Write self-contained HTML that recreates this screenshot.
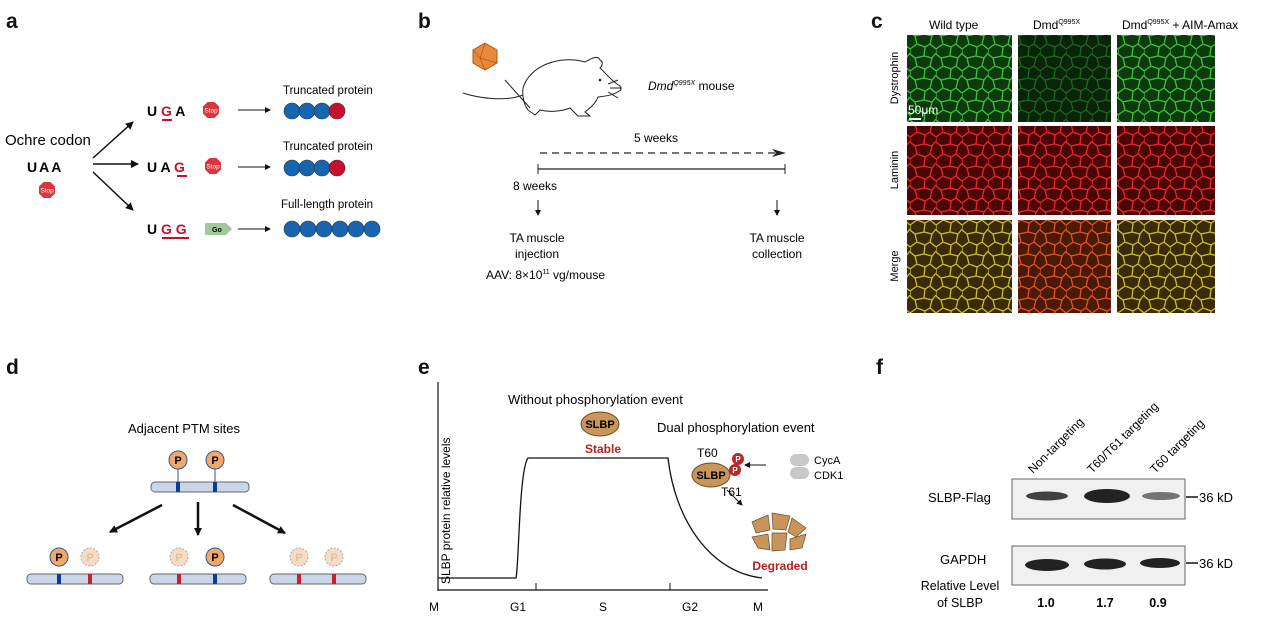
<!DOCTYPE html>
<html><head><meta charset="utf-8"><style>
html,body{margin:0;padding:0;background:#fff;}
svg{display:block;font-family:"Liberation Sans",Arial,sans-serif;}
</style></head><body>
<svg width="1269" height="618" viewBox="0 0 1269 618" xmlns="http://www.w3.org/2000/svg">
<defs>
<marker id="ah" markerWidth="8" markerHeight="8" refX="7" refY="4" orient="auto" markerUnits="userSpaceOnUse"><path d="M0,0 L8,4 L0,8 Z" fill="#111"/></marker>
<marker id="ahs" markerWidth="6" markerHeight="6" refX="5" refY="3" orient="auto" markerUnits="userSpaceOnUse"><path d="M0,0 L6,3 L0,6 Z" fill="#111"/></marker>
<path id="cellp" d="M0,5 L7,0 M7,0 L15,3 L20,0 M15,3 L14,12 L5,14 L0,10 M14,12 L22,14 L26,9 M22,14 L20,22 M5,14 L7,22 M0,5 L0,10 M20,0 L26,5" fill="none" stroke-width="1.3"/>
<pattern id="pG" width="26" height="22" patternUnits="userSpaceOnUse"><rect width="26" height="22" fill="#0d3a0d"/><use href="#cellp" stroke="#40c040"/></pattern>
<pattern id="pGd" width="26" height="22" patternUnits="userSpaceOnUse"><rect width="26" height="22" fill="#0a240a"/><use href="#cellp" stroke="#1f661f"/></pattern>
<pattern id="pR" width="26" height="22" patternUnits="userSpaceOnUse"><rect width="26" height="22" fill="#4a0606"/><use href="#cellp" stroke="#e82828"/></pattern>
<pattern id="pY" width="26" height="22" patternUnits="userSpaceOnUse"><rect width="26" height="22" fill="#3a2a06"/><use href="#cellp" stroke="#ccbc34"/></pattern>
<pattern id="pO" width="26" height="22" patternUnits="userSpaceOnUse"><rect width="26" height="22" fill="#4a1a06"/><use href="#cellp" stroke="#e05426"/></pattern>
<g id="stop"><polygon points="-3.5,-8 3.5,-8 8,-3.5 8,3.5 3.5,8 -3.5,8 -8,3.5 -8,-3.5" fill="#d9363e"/><text x="0" y="2.5" font-size="6.5" fill="#fff" text-anchor="middle">Stop</text></g>
</defs>

<g font-weight="bold" font-size="21" fill="#111">
<text x="6" y="28">a</text><text x="418" y="28">b</text><text x="871" y="28">c</text>
<text x="6" y="374">d</text><text x="418" y="374">e</text><text x="876" y="374">f</text>
</g>

<!-- panel a -->
<text x="5" y="145" font-size="15">Ochre codon</text>
<text x="27" y="172" font-size="14" font-weight="bold" letter-spacing="2">UAA</text>
<use href="#stop" x="47" y="190"/>
<line x1="93" y1="158" x2="133" y2="122" stroke="#111" stroke-width="1.5" marker-end="url(#ah)"/>
<line x1="93" y1="164" x2="138" y2="164" stroke="#111" stroke-width="1.5" marker-end="url(#ah)"/>
<line x1="93" y1="172" x2="133" y2="210" stroke="#111" stroke-width="1.5" marker-end="url(#ah)"/>
<g font-size="14" font-weight="bold">
<text x="147" y="116">U <tspan fill="#c8102e">G</tspan> A</text>
<text x="147" y="172">U A <tspan fill="#c8102e">G</tspan></text>
<text x="147" y="234">U <tspan fill="#c8102e">G G</tspan></text>
</g>
<line x1="162" y1="120" x2="172" y2="120" stroke="#c8102e" stroke-width="2"/>
<line x1="177" y1="176" x2="187" y2="176" stroke="#c8102e" stroke-width="2"/>
<line x1="162" y1="238" x2="189" y2="238" stroke="#c8102e" stroke-width="2"/>
<use href="#stop" x="211" y="110"/><use href="#stop" x="213" y="166"/>
<polygon points="205,223 226,223 232,229 226,235 205,235" fill="#9fc99b"/><text x="212" y="232" font-size="7" font-weight="bold">Go</text>
<g stroke="#111" stroke-width="1" marker-end="url(#ahs)"><line x1="238" y1="110" x2="270" y2="110"/><line x1="238" y1="167" x2="270" y2="167"/><line x1="238" y1="229" x2="270" y2="229"/></g>
<g font-size="11.5"><text x="283" y="94">Truncated protein</text><text x="283" y="150">Truncated protein</text><text x="281" y="208">Full-length protein</text></g>
<g stroke="#333" stroke-width="0.6" fill="#1565b0">
<circle cx="292" cy="111" r="8"/><circle cx="307" cy="111" r="8"/><circle cx="322" cy="111" r="8"/><circle cx="337" cy="111" r="8" fill="#c8102e"/>
<circle cx="292" cy="168" r="8"/><circle cx="307" cy="168" r="8"/><circle cx="322" cy="168" r="8"/><circle cx="337" cy="168" r="8" fill="#c8102e"/>
<circle cx="292" cy="229" r="8"/><circle cx="308" cy="229" r="8"/><circle cx="324" cy="229" r="8"/><circle cx="340" cy="229" r="8"/><circle cx="356" cy="229" r="8"/><circle cx="372" cy="229" r="8"/>
</g>

<!-- panel b -->
<polygon points="485,43 497,50 497,63 485,70 473,63 473,50" fill="#e8893a" stroke="#b0561a"/>
<path d="M485,43 L480,58 L497,63 M480,58 L473,50 M480,58 L485,70" stroke="#b0561a" fill="none" stroke-width="0.7"/>
<g fill="none" stroke="#222" stroke-width="1">
<path d="M523,88 C530,65 560,55 585,62 C592,58 598,55 600,60 C604,62 602,66 600,68 C605,72 610,80 620,86 L621,90 C612,96 605,96 598,97 C596,103 590,108 585,112 L590,116 L578,116 L570,108 C560,112 548,112 540,110 L535,115 L528,110 C524,105 522,96 523,88 Z"/>
<path d="M523,95 C505,102 478,98 463,93"/>
<line x1="505" y1="80" x2="530" y2="108"/>
<path d="M608,84 L618,80 M610,88 L622,88 M608,92 L618,98"/>
</g>
<circle cx="600" cy="80" r="1.3" fill="#222"/>
<text x="648" y="90" font-size="12"><tspan font-style="italic">Dmd</tspan><tspan font-size="7" dy="-5" font-style="italic">Q995X</tspan><tspan dy="5"> mouse</tspan></text>
<text x="634" y="142" font-size="12">5 weeks</text>
<line x1="540" y1="153" x2="778" y2="153" stroke="#222" stroke-width="1.2" stroke-dasharray="7,5"/>
<path d="M772,149 L786,153 L772,157 L776,153Z" fill="#222"/>
<line x1="538" y1="169" x2="785" y2="169" stroke="#222" stroke-width="1.2"/>
<line x1="538" y1="164" x2="538" y2="174" stroke="#222"/><line x1="785" y1="164" x2="785" y2="174" stroke="#222"/>
<text x="513" y="190" font-size="12">8 weeks</text>
<line x1="538" y1="200" x2="538" y2="215" stroke="#111" marker-end="url(#ahs)"/>
<line x1="777" y1="200" x2="777" y2="215" stroke="#111" marker-end="url(#ahs)"/>
<g font-size="12" text-anchor="middle"><text x="537" y="242">TA muscle</text><text x="537" y="258">injection</text>
<text x="777" y="242">TA muscle</text><text x="777" y="258">collection</text></g>
<text x="486" y="279" font-size="12">AAV: 8×10<tspan font-size="7" dy="-5">11</tspan><tspan dy="5"> vg/mouse</tspan></text>

<!-- panel c -->
<g font-size="12"><text x="929" y="29">Wild type</text>
<text x="1033" y="29">Dmd<tspan font-size="7" dy="-5">Q995X</tspan></text>
<text x="1122" y="29">Dmd<tspan font-size="7" dy="-5">Q995X</tspan><tspan dy="5"> + AIM-Amax</tspan></text></g>
<g font-size="11" text-anchor="middle"><text transform="translate(898,78) rotate(-90)">Dystrophin</text>
<text transform="translate(898,170) rotate(-90)">Laminin</text><text transform="translate(898,266) rotate(-90)">Merge</text></g>
<g>
<rect x="907" y="35" width="105" height="87" fill="url(#pG)"/>
<rect x="1018" y="35" width="93" height="87" fill="url(#pGd)"/>
<rect x="1117" y="35" width="98" height="87" fill="url(#pG)"/>
<rect x="907" y="126" width="105" height="89" fill="url(#pR)"/>
<rect x="1018" y="126" width="93" height="89" fill="url(#pR)"/>
<rect x="1117" y="126" width="98" height="89" fill="url(#pR)"/>
<rect x="907" y="220" width="105" height="93" fill="url(#pY)"/>
<rect x="1018" y="220" width="93" height="93" fill="url(#pO)"/>
<rect x="1117" y="220" width="98" height="93" fill="url(#pY)"/>
</g>
<line x1="909" y1="119" x2="921" y2="119" stroke="#fff" stroke-width="2"/>
<text x="908" y="114" font-size="12" fill="#fff">50μm</text>

<!-- panel d -->
<text x="128" y="433" font-size="13">Adjacent PTM sites</text>
<g font-weight="bold" font-size="11" text-anchor="middle">
<circle cx="178" cy="460" r="9" fill="#f3a869" stroke="#2a5a9a"/><text x="178" y="464">P</text>
<circle cx="215" cy="460" r="9" fill="#f3a869" stroke="#2a5a9a"/><text x="215" y="464">P</text>
<line x1="178" y1="469" x2="178" y2="483" stroke="#2a5a9a"/><line x1="215" y1="469" x2="215" y2="483" stroke="#2a5a9a"/>
<rect x="151" y="482" width="98" height="10" rx="4" fill="#c9d6ea" stroke="#666"/>
<rect x="176" y="482" width="4" height="10" fill="#0a3f8f"/><rect x="213" y="482" width="4" height="10" fill="#0a3f8f"/>
<g stroke="#111" stroke-width="2.5" marker-end="url(#ah)"><line x1="162" y1="505" x2="110" y2="532"/><line x1="198" y1="502" x2="198" y2="535"/><line x1="233" y1="505" x2="285" y2="533"/></g>
<g>
<rect x="27" y="574" width="96" height="10" rx="4" fill="#c9d6ea" stroke="#666"/><rect x="57" y="574" width="4" height="10" fill="#0a3f8f"/><rect x="88" y="574" width="4" height="10" fill="#c8202e"/>
<circle cx="59" cy="557" r="9" fill="#f3a869" stroke="#2a5a9a"/><text x="59" y="561">P</text>
<circle cx="90" cy="557" r="9" fill="#f6dcc4" stroke="#aaa" stroke-dasharray="2,1.5"/><text x="90" y="561" fill="#e0c0a0">P</text>
<rect x="150" y="574" width="96" height="10" rx="4" fill="#c9d6ea" stroke="#666"/><rect x="177" y="574" width="4" height="10" fill="#c8202e"/><rect x="213" y="574" width="4" height="10" fill="#0a3f8f"/>
<circle cx="179" cy="557" r="9" fill="#f6dcc4" stroke="#aaa" stroke-dasharray="2,1.5"/><text x="179" y="561" fill="#e0c0a0">P</text>
<circle cx="215" cy="557" r="9" fill="#f3a869" stroke="#2a5a9a"/><text x="215" y="561">P</text>
<rect x="270" y="574" width="96" height="10" rx="4" fill="#c9d6ea" stroke="#666"/><rect x="297" y="574" width="4" height="10" fill="#c8202e"/><rect x="332" y="574" width="4" height="10" fill="#c8202e"/>
<circle cx="299" cy="557" r="9" fill="#f6dcc4" stroke="#aaa" stroke-dasharray="2,1.5"/><text x="299" y="561" fill="#e0c0a0">P</text>
<circle cx="334" cy="557" r="9" fill="#f6dcc4" stroke="#aaa" stroke-dasharray="2,1.5"/><text x="334" y="561" fill="#e0c0a0">P</text>
</g></g>

<!-- panel e -->
<line x1="438" y1="382" x2="438" y2="591" stroke="#111" stroke-width="1.2"/>
<line x1="438" y1="590" x2="768" y2="590" stroke="#111" stroke-width="1.2"/>
<line x1="536" y1="583" x2="536" y2="590" stroke="#111"/><line x1="670" y1="583" x2="670" y2="590" stroke="#111"/>
<text transform="translate(450,584) rotate(-90)" font-size="12">SLBP protein relative levels</text>
<path d="M438,578 L516,578 C519,565 519,470 528,458 L668,458 C675,520 710,572 762,578" stroke="#111" stroke-width="1.3" fill="none"/>
<g font-size="12" text-anchor="middle"><text x="434" y="611">M</text><text x="518" y="611">G1</text><text x="603" y="611">S</text><text x="690" y="611">G2</text><text x="758" y="611">M</text></g>
<text x="508" y="404" font-size="13">Without phosphorylation event</text>
<ellipse cx="600" cy="424" rx="19" ry="12" fill="#c8955a" stroke="#6a4a2a"/><text x="600" y="428" font-size="11" font-weight="bold" text-anchor="middle">SLBP</text>
<text x="603" y="453" font-size="12" font-weight="bold" fill="#b52020" text-anchor="middle">Stable</text>
<text x="657" y="432" font-size="13">Dual phosphorylation event</text>
<text x="697" y="457" font-size="12">T60</text>
<ellipse cx="711" cy="475" rx="19" ry="12" fill="#c8955a" stroke="#6a4a2a"/><text x="711" y="479" font-size="11" font-weight="bold" text-anchor="middle">SLBP</text>
<circle cx="738" cy="459" r="6" fill="#b52a2a"/><circle cx="735" cy="470" r="6" fill="#b52a2a"/>
<g font-size="8" fill="#fff" text-anchor="middle" font-weight="bold"><text x="738" y="462">P</text><text x="735" y="473">P</text></g>
<text x="721" y="496" font-size="12">T61</text>
<line x1="766" y1="465" x2="745" y2="465" stroke="#111" marker-end="url(#ahs)"/>
<rect x="790" y="454" width="19" height="12" rx="6" fill="#c8c8c8"/><rect x="790" y="467" width="19" height="12" rx="6" fill="#c8c8c8"/>
<text x="814" y="464" font-size="11">CycA</text><text x="814" y="479" font-size="11">CDK1</text>
<line x1="727" y1="490" x2="742" y2="505" stroke="#111" marker-end="url(#ahs)"/>
<g fill="#c8955a" stroke="#6a4a2a" stroke-width="0.7">
<polygon points="752,522 768,515 770,530 756,533"/><polygon points="772,513 790,516 786,530 773,529"/><polygon points="792,518 806,528 796,537 788,532"/>
<polygon points="752,537 768,534 770,550 758,548"/><polygon points="772,533 787,533 785,550 772,551"/><polygon points="790,539 806,534 802,548 790,550"/>
</g>
<text x="780" y="570" font-size="12" font-weight="bold" fill="#b52020" text-anchor="middle">Degraded</text>

<!-- panel f -->
<g font-size="12">
<text transform="translate(1033,474) rotate(-45)">Non-targeting</text>
<text transform="translate(1092,474) rotate(-45)">T60/T61 targeting</text>
<text transform="translate(1155,474) rotate(-45)">T60 targeting</text>
</g>
<rect x="1012" y="479" width="173" height="40" fill="#f0f0f0" stroke="#666"/>
<rect x="1012" y="546" width="173" height="39" fill="#f0f0f0" stroke="#666"/>
<g fill="#222"><ellipse cx="1047" cy="496" rx="21" ry="4.5" opacity="0.85"/><ellipse cx="1107" cy="496" rx="23" ry="7"/><ellipse cx="1161" cy="496" rx="19" ry="4" opacity="0.6"/>
<ellipse cx="1047" cy="565" rx="22" ry="6"/><ellipse cx="1105" cy="564" rx="21" ry="5.5"/><ellipse cx="1160" cy="563" rx="20" ry="5"/></g>
<line x1="1186" y1="497" x2="1198" y2="497" stroke="#111" stroke-width="1.5"/><line x1="1186" y1="563" x2="1198" y2="563" stroke="#111" stroke-width="1.5"/>
<g font-size="13"><text x="1199" y="502">36 kD</text><text x="1199" y="568">36 kD</text>
<text x="928" y="502">SLBP-Flag</text><text x="940" y="564">GAPDH</text></g>
<g font-size="12.5" text-anchor="middle"><text x="960" y="590">Relative Level</text><text x="960" y="607">of SLBP</text></g>
<g font-size="12.5" font-weight="bold" text-anchor="middle"><text x="1046" y="607">1.0</text><text x="1105" y="607">1.7</text><text x="1158" y="607">0.9</text></g>
</svg>
</body></html>
